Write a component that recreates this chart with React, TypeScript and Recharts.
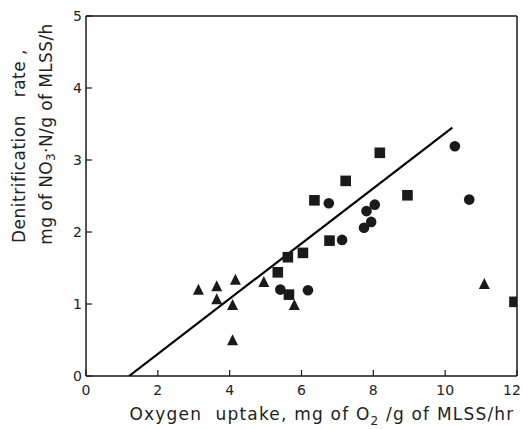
import React from 'react';
import { ScatterChart, Scatter, XAxis, YAxis, ReferenceLine } from 'recharts';

const triangleX = [3.13, 3.64, 3.64, 4.16, 4.08, 4.08, 4.95, 5.8, 11.09];
const triangleY = [1.19, 1.24, 1.06, 1.33, 0.98, 0.49, 1.3, 0.98, 1.27];

const circleX = [5.41, 6.18, 6.76, 7.13, 7.74, 7.81, 7.94, 8.04, 10.27, 10.67];
const circleY = [1.2, 1.19, 2.4, 1.89, 2.06, 2.29, 2.14, 2.38, 3.19, 2.45];

const squareX = [5.34, 5.62, 5.65, 6.04, 6.36, 6.78, 7.23, 8.18, 8.95, 11.93];
const squareY = [1.44, 1.65, 1.13, 1.71, 2.44, 1.88, 2.71, 3.1, 2.51, 1.03];

const fitLineX = [1.2, 10.2];
const fitLineY = [0, 3.45];

const xTicks = [0, 2, 4, 6, 8, 10, 12];
const yTicks = [0, 1, 2, 3, 4, 5];

const toPoints = (xs: number[], ys: number[]) => xs.map((x, i) => ({ x, y: ys[i] }));

const triangles = toPoints(triangleX, triangleY);
const circles = toPoints(circleX, circleY);
const squares = toPoints(squareX, squareY);
const fitLine = toPoints(fitLineX, fitLineY);

const INK = '#1a1a1a';
const TEXT = '#222';
const FONT = '"DejaVu Sans", sans-serif';

const TriangleShape = (p: any) => {
  const { cx, cy } = p;
  return <path d={`M${cx},${cy - 6.5} L${cx + 5.5},${cy + 4.5} L${cx - 5.5},${cy + 4.5} Z`} fill={INK} />;
};
const CircleShape = (p: any) => {
  const { cx, cy } = p;
  return <circle cx={cx} cy={cy} r={5.3} fill={INK} />;
};
const SquareShape = (p: any) => {
  const { cx, cy } = p;
  return <rect x={cx - 5.3} y={cy - 5.3} width={10.6} height={10.6} fill={INK} />;
};
const NoShape = () => <g />;

const XTick = (p: any) => {
  const { x, y, payload } = p;
  const shift = payload.value === 12 ? -3 : 0;
  return (
    <text x={x + shift} y={y} dy="0.71em" textAnchor="middle" fontSize={14} fill={TEXT} fontFamily={FONT}>
      {payload.value}
    </text>
  );
};

const YLabel = () => (
  <g fontFamily={FONT} fontSize={17} fill={TEXT}>
    <text x={19} y={146} transform="rotate(-90 19 146)" textAnchor="middle" dominantBaseline="central" letterSpacing={0.5}>
      Denitrification{'\u00a0\u00a0\u00a0'}rate{'\u00a0'},
    </text>
    <text x={46} y={134} transform="rotate(-90 46 134)" textAnchor="middle" dominantBaseline="central" letterSpacing={0.4}>
      mg of NO<tspan dy={5} fontSize={12}>3</tspan>
      <tspan dy={-5}>·N/g of MLSS/h</tspan>
    </text>
  </g>
);

const XLabel = () => (
  <g fontFamily={FONT} fontSize={17} fill={TEXT}>
    <text x={322} y={420} textAnchor="middle" letterSpacing={1.2}>
      Oxygen{'\u00a0'} uptake, mg of O<tspan dy={5} fontSize={12}>2</tspan>
      <tspan dy={-5}>{'\u00a0'}/g of MLSS/hr</tspan>
    </text>
  </g>
);

export default function App() {
  return (
    <div style={{ position: 'absolute', left: 0, top: 0, width: 523, height: 429, background: '#fff' }}>
      <ScatterChart width={523} height={429} margin={{ top: 16, right: 6, bottom: 0, left: 0 }}>
        <XAxis
          type="number"
          dataKey="x"
          domain={[0, 12]}
          ticks={xTicks}
          height={53}
          axisLine={{ stroke: INK, strokeWidth: 1.5 }}
          tickLine={{ stroke: INK, strokeWidth: 1.2 }}
          tickSize={-6}
          tickMargin={15}
          tick={XTick}
          label={{ content: () => <XLabel /> }}
          allowDataOverflow
        />
        <YAxis
          type="number"
          dataKey="y"
          domain={[0, 5]}
          ticks={yTicks}
          width={86}
          axisLine={{ stroke: INK, strokeWidth: 1.5 }}
          tickLine={{ stroke: INK, strokeWidth: 1.2 }}
          tickSize={-6}
          tickMargin={10}
          tick={{ fontSize: 14, fill: TEXT, fontFamily: FONT }}
          label={{ content: () => <YLabel /> }}
          allowDataOverflow
        />
        <ReferenceLine y={5} stroke={INK} strokeWidth={1.5} />
        <ReferenceLine x={12} stroke={INK} strokeWidth={1.5} />
        <Scatter
          data={fitLine}
          line={{ stroke: '#000', strokeWidth: 2.2 }}
          shape={NoShape}
          isAnimationActive={false}
        />
        <Scatter data={triangles} shape={TriangleShape} isAnimationActive={false} />
        <Scatter data={circles} shape={CircleShape} isAnimationActive={false} />
        <Scatter data={squares} shape={SquareShape} isAnimationActive={false} />
      </ScatterChart>
    </div>
  );
}
